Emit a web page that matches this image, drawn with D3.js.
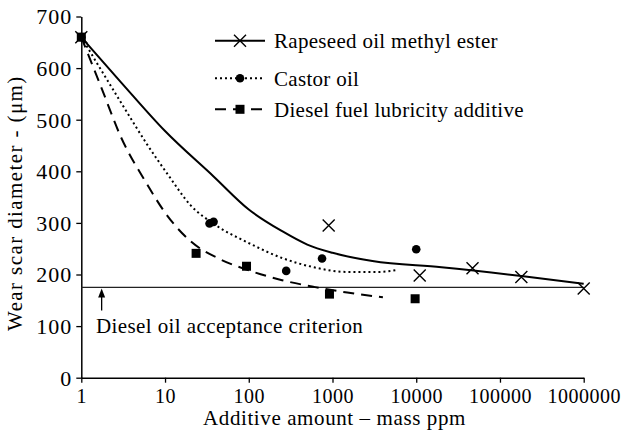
<!DOCTYPE html>
<html>
<head>
<meta charset="utf-8">
<script src="https://cdn.jsdelivr.net/npm/d3@7/dist/d3.min.js"></script>
<style>
  html, body { margin: 0; padding: 0; background: #fff; }
  svg text { font-family: "Liberation Serif", "DejaVu Serif", "Noto Serif", serif; fill: #000; }
</style>
</head>
<body>
<svg id="chart" width="622" height="437"></svg>
<script>
// Axis ticks
const xTickValues = [1, 10, 100, 1000, 10000, 100000, 1000000];
const xTickLabels = ["1", "10", "100", "1000", "10000", "100000", "1000000"];
const yTickValues = [0, 100, 200, 300, 400, 500, 600, 700];

// Series names
const seriesNames = ["Rapeseed oil methyl ester", "Castor oil", "Diesel fuel lubricity additive"];

// Measured points [mass ppm, wear scar µm]
const rapeseedPoints = [[1, 660], [900, 295], [11000, 198], [47000, 212], [180000, 195], [1000000, 173]];
const castorPoints   = [[1, 660], [34, 299], [38, 302], [280, 207], [750, 231], [10000, 249]];
const dieselPoints   = [[1, 660], [23.5, 241], [94, 216], [920, 162], [9700, 153]];

// Trend curves [mass ppm, wear scar µm]
const rapeseedTrend = [[1, 660], [3, 572], [10, 478], [38, 390], [100, 326], [250, 284],
                       [500, 258], [1000, 242], [3000, 226], [20000, 214], [180000, 197], [1000000, 182]];
const castorTrend   = [[1, 660], [3.2, 525], [6, 454], [11, 392], [20, 335], [40, 296], [100, 261],
                       [250, 232], [600, 214], [1500, 205], [3500, 205], [6000, 209]];
const dieselTrend   = [[1, 660], [1.7, 566], [3, 465], [6, 377], [10, 320], [20, 265], [45, 230],
                       [100, 208], [250, 189], [600, 176], [1500, 165], [4000, 156]];

// Acceptance criterion (µm)
const criterionValue = 175;
const criterionLabel = "Diesel oil acceptance criterion";
const xTitle = "Additive amount \u2013 mass ppm";
const yTitle = "Wear scar diameter - (\u03bcm)";

const svg = d3.select("#chart");
const plot = { left: 81.3, right: 583.7, top: 16.5, bottom: 377.7 };
const textSize = 21;

const x = d3.scaleLog().domain([1, 1000000]).range([plot.left, plot.right]);
const y = d3.scaleLinear().domain([0, 700]).range([plot.bottom, plot.top]);

// Axes
const xAxis = svg.append("g")
  .attr("transform", `translate(0,${plot.bottom})`)
  .call(d3.axisBottom(x).tickValues(xTickValues)
        .tickFormat((d, i) => xTickLabels[i]).tickSizeInner(5).tickSizeOuter(0).tickPadding(8));
const yAxis = svg.append("g")
  .attr("transform", `translate(${plot.left},0)`)
  .call(d3.axisLeft(y).tickValues(yTickValues).tickSizeInner(5).tickSizeOuter(0).tickPadding(4));

[xAxis, yAxis].forEach(g => {
  g.attr("font-family", null).attr("font-size", null);
  g.select(".domain").attr("stroke", "#000").attr("stroke-width", 1.5);
  g.selectAll(".tick line").attr("stroke", "#000").attr("stroke-width", 1.3);
});
xAxis.selectAll(".tick text")
  .attr("font-size", 20).attr("letter-spacing", 0.5)
  .attr("dy", null).attr("y", 25.5);
yAxis.selectAll(".tick text")
  .attr("font-size", 22).attr("letter-spacing", 1)
  .attr("dy", "0.34em");

// Axis titles
svg.append("text")
  .attr("x", (plot.left + plot.right) / 2 + 2).attr("y", 425)
  .attr("text-anchor", "middle").attr("font-size", textSize).attr("letter-spacing", 0.6)
  .text(xTitle);
svg.append("text")
  .attr("transform", `translate(22,${(plot.top + plot.bottom) / 2 + 6}) rotate(-90)`)
  .attr("text-anchor", "middle").attr("font-size", textSize).attr("letter-spacing", 1.4)
  .text(yTitle);

// Criterion line, arrow and label
svg.append("line")
  .attr("x1", plot.left).attr("x2", plot.right)
  .attr("y1", y(criterionValue)).attr("y2", y(criterionValue))
  .attr("stroke", "#222").attr("stroke-width", 1.3);

const arrowX = x(1.75);
svg.append("line")
  .attr("x1", arrowX).attr("x2", arrowX)
  .attr("y1", y(criterionValue) + 23).attr("y2", y(criterionValue) + 6)
  .attr("stroke", "#000").attr("stroke-width", 1.3);
svg.append("path")
  .attr("d", `M${arrowX},${y(criterionValue) + 1}l-3.5,9l7,0z`)
  .attr("fill", "#000");
svg.append("text")
  .attr("x", 96).attr("y", 333)
  .attr("font-size", textSize).attr("letter-spacing", 0.4)
  .text(criterionLabel);

// Trend curves
const line = d3.line().x(d => x(d[0])).y(d => y(d[1])).curve(d3.curveMonotoneX);
const styles = [
  { dash: null, width: 2 },
  { dash: "2,3", width: 2 },
  { dash: "11,7", width: 2 }
];
[rapeseedTrend, castorTrend, dieselTrend].forEach((t, i) => {
  svg.append("path")
    .attr("d", line(t))
    .attr("fill", "none")
    .attr("stroke", "#000")
    .attr("stroke-width", styles[i].width)
    .attr("stroke-dasharray", styles[i].dash);
});

// Markers
function drawCross(g, cx, cy) {
  g.append("path")
    .attr("d", `M${cx - 6},${cy - 6}L${cx + 6},${cy + 6}M${cx - 6},${cy + 6}L${cx + 6},${cy - 6}`)
    .attr("stroke", "#000").attr("stroke-width", 1.4).attr("fill", "none");
}
function drawCircle(g, cx, cy) {
  g.append("circle").attr("cx", cx).attr("cy", cy).attr("r", 4.3).attr("fill", "#000");
}
function drawSquare(g, cx, cy) {
  g.append("rect").attr("x", cx - 4.5).attr("y", cy - 4.5).attr("width", 9).attr("height", 9).attr("fill", "#000");
}

const marks = svg.append("g");
rapeseedPoints.forEach(d => drawCross(marks, x(d[0]), y(d[1])));
castorPoints.forEach(d => drawCircle(marks, x(d[0]), y(d[1])));
dieselPoints.forEach(d => drawSquare(marks, x(d[0]), y(d[1])));

// Legend
const legendRows = [40.7, 78.3, 109.3];
const drawers = [drawCross, drawCircle, drawSquare];
const legend = svg.append("g");
seriesNames.forEach((name, i) => {
  const ly = legendRows[i];
  legend.append("line")
    .attr("x1", 215).attr("x2", 265).attr("y1", ly).attr("y2", ly)
    .attr("stroke", "#000").attr("stroke-width", 2)
    .attr("stroke-dasharray", styles[i].dash);
  drawers[i](legend, 240, ly);
  legend.append("text")
    .attr("x", 274).attr("y", ly + 7.5)
    .attr("font-size", textSize).attr("letter-spacing", 0.3)
    .text(name);
});
</script>
</body>
</html>
